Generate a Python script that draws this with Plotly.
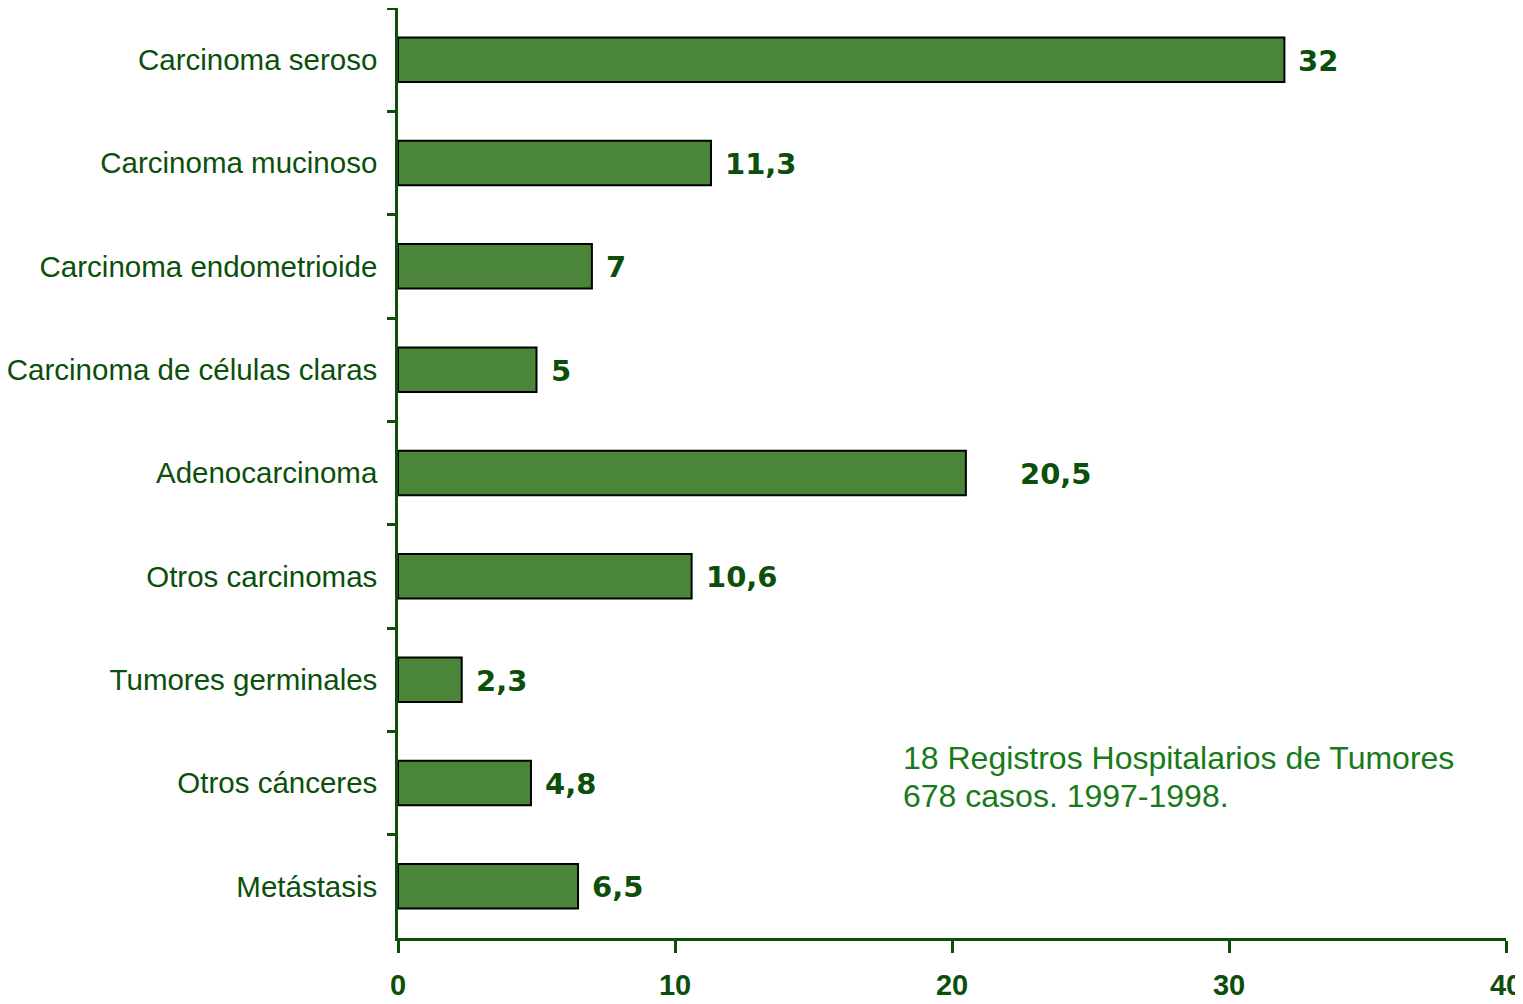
import plotly.graph_objects as go

categories = [
    "Carcinoma seroso",
    "Carcinoma mucinoso",
    "Carcinoma endometrioide",
    "Carcinoma de células claras",
    "Adenocarcinoma",
    "Otros carcinomas",
    "Tumores germinales",
    "Otros cánceres",
    "Metástasis",
]
values = [32, 11.3, 7, 5, 20.5, 10.6, 2.3, 4.8, 6.5]
value_labels = ["32", "11,3", "7", "5", "20,5", "10,6", "2,3", "4,8", "6,5"]
x_ticks = [0, 10, 20, 30, 40]
note_lines = ["18 Registros Hospitalarios de Tumores", "678 casos. 1997-1998."]

DARK = "#0b4f0b"
BAR = "#4a8539"
NOTE = "#187a18"

fig = go.Figure()
fig.add_trace(go.Bar(
    y=categories,
    x=values,
    orientation="h",
    width=0.43,
    marker=dict(color=BAR, line=dict(color="#000000", width=2)),
    hoverinfo="skip",
))

for cat, v, lab in zip(categories, values, value_labels):
    shift = 52 if cat == "Adenocarcinoma" else 12
    fig.add_annotation(
        x=v, y=cat, xref="x", yref="y",
        text=lab, showarrow=False,
        xanchor="left", yanchor="middle",
        xshift=shift, yshift=-1,
        font=dict(family="DejaVu Sans", size=29, color=DARK, weight="bold"),
    )

for i, line in enumerate(note_lines):
    fig.add_annotation(
        x=0.454, y=0.1935, xref="paper", yref="paper",
        text=line, showarrow=False,
        xanchor="left", yanchor="middle", align="left",
        yshift=-38 * i,
        font=dict(family="Liberation Sans, Arial", size=32, color=NOTE),
    )

fig.update_layout(
    width=1515, height=996,
    margin=dict(l=390, r=17, t=0, b=66, autoexpand=False),
    paper_bgcolor="white", plot_bgcolor="white",
    showlegend=False,
    xaxis=dict(
        range=[0, 40],
        tickvals=x_ticks,
        ticktext=[str(t) for t in x_ticks],
        showgrid=False, zeroline=False, automargin=False,
        showline=True, linecolor=DARK, linewidth=2.5,
        ticks="outside", ticklen=12, tickwidth=2.5, tickcolor=DARK,
        tickfont=dict(family="Liberation Sans, Arial", size=29, color=DARK, weight="bold"),
        ticklabelstandoff=7,
    ),
    yaxis=dict(
        categoryorder="array",
        categoryarray=categories,
        range=[len(categories) - 0.5, -0.5],
        tickson="boundaries",
        showgrid=False, zeroline=False, automargin=False,
        showline=True, linecolor=DARK, linewidth=2.5,
        ticks="outside", ticklen=8, tickwidth=2.5, tickcolor=DARK,
        tickfont=dict(family="Liberation Sans, Arial", size=29.5, color=DARK),
        ticklabelstandoff=12,
    ),
)

fig.write_html("out.html")
